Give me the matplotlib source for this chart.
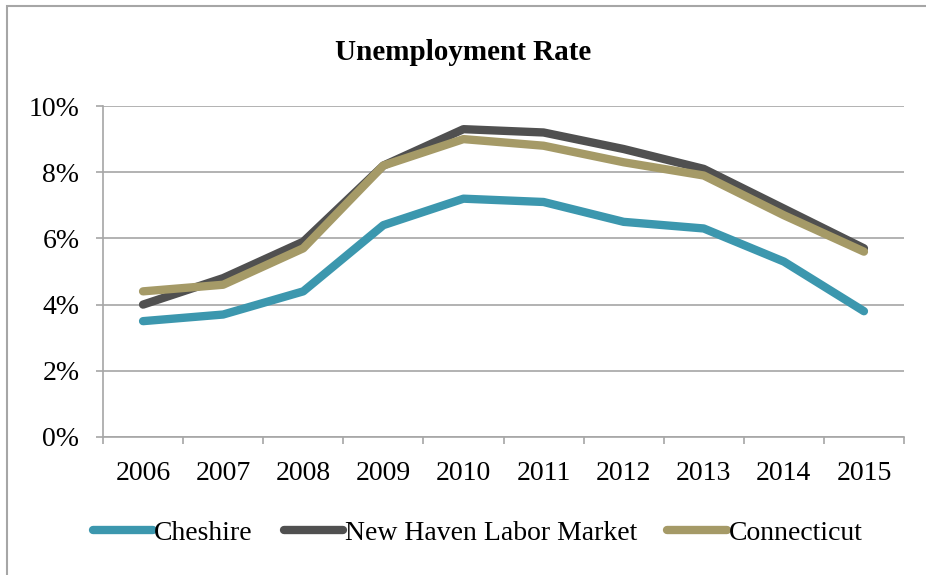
import numpy as np
import matplotlib

matplotlib.use("Agg")
import matplotlib.pyplot as plt
from matplotlib.patches import Rectangle
from matplotlib.ticker import FixedLocator, FuncFormatter

years = ["2006", "2007", "2008", "2009", "2010", "2011", "2012", "2013", "2014", "2015"]
cheshire = [3.5, 3.7, 4.4, 6.4, 7.2, 7.1, 6.5, 6.3, 5.3, 3.8]
new_haven = [4.0, 4.8, 5.9, 8.2, 9.3, 9.2, 8.7, 8.1, 6.9, 5.7]
connecticut = [4.4, 4.6, 5.7, 8.2, 9.0, 8.8, 8.3, 7.9, 6.7, 5.6]

series = [
    ("Cheshire", cheshire, "#3c97ae"),
    ("New Haven Labor Market", new_haven, "#505050"),
    ("Connecticut", connecticut, "#a59a67"),
]

GRID = "#a6a6a6"
plt.rcParams["font.family"] = ["Liberation Serif", "DejaVu Serif"]

fig = plt.figure(figsize=(9.26, 5.75), dpi=100)
ax = fig.add_axes([103 / 926, 1 - 437 / 575, (904 - 103) / 926, (437 - 106) / 575])

x = np.arange(len(years))
for name, vals, color in series:
    ax.plot(x, vals, color=color, lw=6, solid_capstyle="round",
            solid_joinstyle="round", label=name, zorder=3)

ax.set_xlim(-0.5, len(years) - 0.5)
ax.set_ylim(0, 10)
ax.set_yticks(np.arange(0, 11, 2))
ax.yaxis.set_major_formatter(FuncFormatter(lambda v, _: f"{v:.0f}%"))
ax.set_xticks(x)
ax.set_xticklabels(years)
ax.xaxis.set_minor_locator(FixedLocator(np.arange(-0.5, len(years), 1.0)))

ax.grid(axis="y", color=GRID, lw=1.2, zorder=0)
for side in ("top", "right"):
    ax.spines[side].set_visible(False)
for side in ("left", "bottom"):
    ax.spines[side].set_color(GRID)
    ax.spines[side].set_linewidth(1.2)

ax.tick_params(axis="y", length=5, width=1.2, color=GRID, labelsize=20, pad=12)
ax.tick_params(axis="x", which="major", length=0, labelsize=20, pad=17)
ax.tick_params(axis="x", which="minor", length=5, width=1.2, color=GRID)

fig.text(0.5, 1 - 52 / 575, "Unemployment Rate", ha="center", va="center",
         fontsize=21, fontweight="bold")

fig.legend(loc="center", bbox_to_anchor=(0.516, 1 - 533 / 575), ncol=3,
           frameon=False, fontsize=20, handlelength=2.15, handletextpad=0.05,
           columnspacing=1.1)

# outer chart border (runs off the right and bottom edges)
fig.patches.append(Rectangle((7 / 926, -0.1), 2.0, (575 - 6) / 575 + 0.1,
                             transform=fig.transFigure, fill=False,
                             edgecolor=GRID, lw=1.5))

fig.savefig("out.png", dpi=100)
